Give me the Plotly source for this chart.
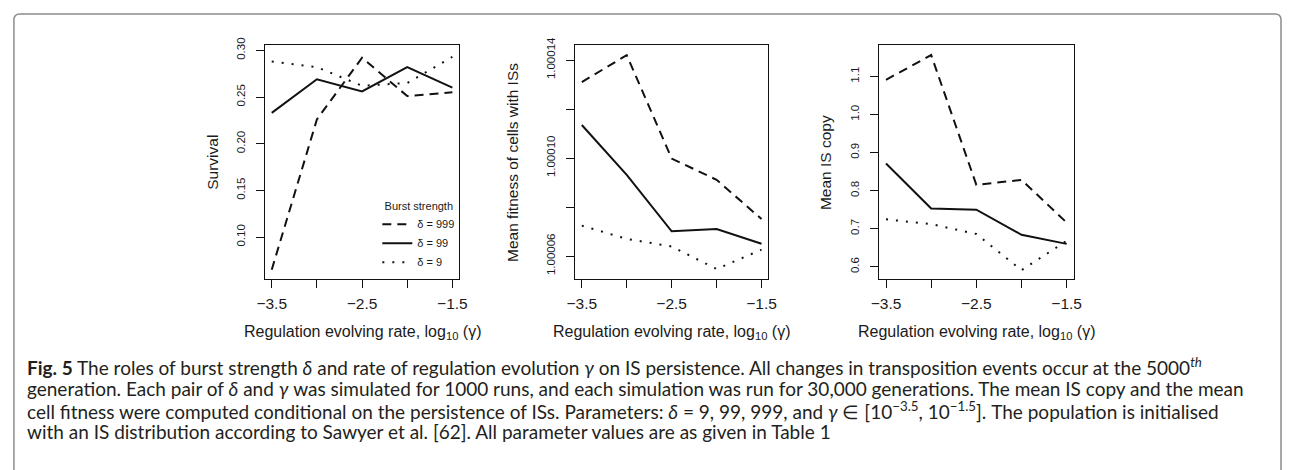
import plotly.graph_objects as go

W, H = 1290, 470

# ---- data ----
log_gamma = [-3.5, -3.0, -2.5, -2.0, -1.5]
series_names = ["δ = 999", "δ = 99", "δ = 9"]

survival_999 = [0.065, 0.226, 0.292, 0.251, 0.255]
survival_99 = [0.233, 0.269, 0.256, 0.282, 0.260]
survival_9 = [0.288, 0.282, 0.262, 0.265, 0.293]

fitness_999 = [1.000131, 1.000142, 1.0000998, 1.0000911, 1.0000751]
fitness_99 = [1.0001135, 1.0000931, 1.0000701, 1.000071, 1.000065]
fitness_9 = [1.0000724, 1.000067, 1.0000639, 1.0000547, 1.0000626]

copy_999 = [1.091, 1.156, 0.815, 0.828, 0.716]
copy_99 = [0.871, 0.753, 0.750, 0.684, 0.660]
copy_9 = [0.7245, 0.712, 0.686, 0.591, 0.668]

x_tickvals = [-3.5, -3.0, -2.5, -2.0, -1.5]
x_ticktext = ["−3.5", "", "−2.5", "", "−1.5"]

y1_tickvals = [0.10, 0.15, 0.20, 0.25, 0.30]
y1_ticktext = ["0.10", "0.15", "0.20", "0.25", "0.30"]
y2_tickvals = [1.00006, 1.00008, 1.00010, 1.00012, 1.00014]
y2_ticktext = ["1.00006", "", "1.00010", "", "1.00014"]
y3_tickvals = [0.6, 0.7, 0.8, 0.9, 1.0, 1.1]
y3_ticktext = ["0.6", "0.7", "0.8", "0.9", "1.0", "1.1"]

y_titles = ["Survival", "Mean fitness of cells with ISs", "Mean IS copy"]
x_title = "Regulation evolving rate, log<sub>10</sub> (γ)"

caption_lines = [
    "<b>Fig. 5</b> The roles of burst strength <i>δ</i> and rate of regulation evolution <i>γ</i> "
    "on IS persistence. All changes in transposition events occur at the 5000<sup><i>th</i></sup>",
    "generation. Each pair of <i>δ</i> and <i>γ</i> was simulated for 1000 runs, and each simulation "
    "was run for 30,000 generations. The mean IS copy and the mean",
    "cell fitness were computed conditional on the persistence of ISs. Parameters: <i>δ</i> = 9, 99, 999, "
    "and <i>γ</i> ∈ [10<sup>−3.5</sup>, 10<sup>−1.5</sup>]. The population is initialised",
    "with an IS distribution according to Sawyer et al. [62]. All parameter values are as given in Table 1",
]

# ---- layout helpers ----
def px_x(p):
    return p / W

def px_y(p):
    return 1 - p / H

panels_px = [(260, 457), (574, 770), (882, 1079)]
top_px, bot_px = 38, 276
y_ranges = [[0.0548, 0.3053], [1.0000505, 1.000146], [0.567, 1.1815]]
y_ticks = [(y1_tickvals, y1_ticktext), (y2_tickvals, y2_ticktext), (y3_tickvals, y3_ticktext)]
ytitle_x = [207, 511, 828]
caption_y = [365, 387, 409, 431]

dashes = ["9px,6px", "solid", "2px,8px"]
data_sets = [
    [survival_999, survival_99, survival_9],
    [fitness_999, fitness_99, fitness_9],
    [copy_999, copy_99, copy_9],
]

TXT = "#1a1a1a"
AXFONT = "Liberation Sans, Arial, sans-serif"

fig = go.Figure()

for i, sets in enumerate(data_sets):
    xa = "x" if i == 0 else f"x{i+1}"
    ya = "y" if i == 0 else f"y{i+1}"
    for j, vals in enumerate(sets):
        fig.add_trace(go.Scatter(
            x=log_gamma, y=vals, mode="lines",
            line=dict(color="#111111", width=2, dash=dashes[j]),
            name=series_names[j], showlegend=(i == 0),
            xaxis=xa, yaxis=ya,
        ))

layout = dict(
    width=W, height=H,
    margin=dict(l=0, r=0, t=0, b=0),
    paper_bgcolor="white", plot_bgcolor="white",
    font=dict(family=AXFONT, color=TXT),
    showlegend=True,
    legend=dict(
        x=px_x(458), y=px_y(274), xanchor="right", yanchor="bottom",
        bgcolor="rgba(0,0,0,0)", borderwidth=0,
        font=dict(size=11, family=AXFONT, color=TXT),
        title=dict(text="Burst strength", side="top center", font=dict(size=11, family=AXFONT, color=TXT)),
        itemwidth=30, tracegroupgap=0,
    ),
)

annotations = []
for i, (x0, x1) in enumerate(panels_px):
    sfx = "" if i == 0 else str(i + 1)
    layout["xaxis" + sfx] = dict(
        domain=[px_x(x0), px_x(x1)], range=[-3.577, -1.423],
        anchor="y" + sfx,
        showline=True, mirror=True, linecolor="#111111", linewidth=1,
        ticks="outside", ticklen=8, tickwidth=1, tickcolor="#111111",
        tickvals=x_tickvals, ticktext=x_ticktext,
        tickfont=dict(size=15.5, family=AXFONT, color=TXT),
        ticklabelstandoff=2,
        showgrid=False, zeroline=False, fixedrange=True,
    )
    tv, tt = y_ticks[i]
    layout["yaxis" + sfx] = dict(
        domain=[px_y(bot_px), px_y(top_px)], range=y_ranges[i],
        anchor="x" + sfx,
        showline=True, mirror=True, linecolor="#111111", linewidth=1,
        ticks="outside", ticklen=8, tickwidth=1, tickcolor="#111111",
        tickvals=tv, ticktext=tt, tickangle=-90,
        tickfont=dict(size=11.5, family=AXFONT, color=TXT),
        ticklabelstandoff=6,
        showgrid=False, zeroline=False, fixedrange=True,
    )
    annotations.append(dict(
        text=x_title, xref="paper", yref="paper",
        x=px_x((x0 + x1) / 2), y=px_y(330), xanchor="center", yanchor="middle",
        showarrow=False, font=dict(size=16, family=AXFONT, color=TXT),
    ))
    annotations.append(dict(
        text=y_titles[i], xref="paper", yref="paper",
        x=px_x(ytitle_x[i]), y=px_y((top_px + bot_px) / 2), xanchor="center", yanchor="middle",
        textangle=-90, showarrow=False, font=dict(size=15.5, family=AXFONT, color=TXT),
    ))

for line, yc in zip(caption_lines, caption_y):
    annotations.append(dict(
        text=line, xref="paper", yref="paper",
        x=px_x(17), y=px_y(yc), xanchor="left", yanchor="middle", align="left",
        showarrow=False, font=dict(size=19, family="Lato, Open Sans, sans-serif", color="#231f20"),
    ))
layout["annotations"] = annotations

# rounded frame around the figure
frame_path = (
    f"M {px_x(6)},{px_y(470)} L {px_x(6)},{px_y(12)} "
    f"Q {px_x(6)},{px_y(6)} {px_x(12)},{px_y(6)} "
    f"L {px_x(1283)},{px_y(6)} Q {px_x(1289)},{px_y(6)} {px_x(1289)},{px_y(12)} "
    f"L {px_x(1289)},{px_y(470)}"
)
layout["shapes"] = [dict(type="path", path=frame_path, xref="paper", yref="paper",
                         line=dict(color="#8c8c8c", width=1.5))]

fig.update_layout(**layout)
fig.write_html("out.html", config={"displayModeBar": False})

# remove default page margins so the figure sits at the window origin
with open("out.html", encoding="utf-8") as f:
    html = f.read()
html = html.replace("<head>", "<head><style>html,body{margin:0;padding:0;overflow:hidden;}</style>", 1)
with open("out.html", "w", encoding="utf-8") as f:
    f.write(html)
